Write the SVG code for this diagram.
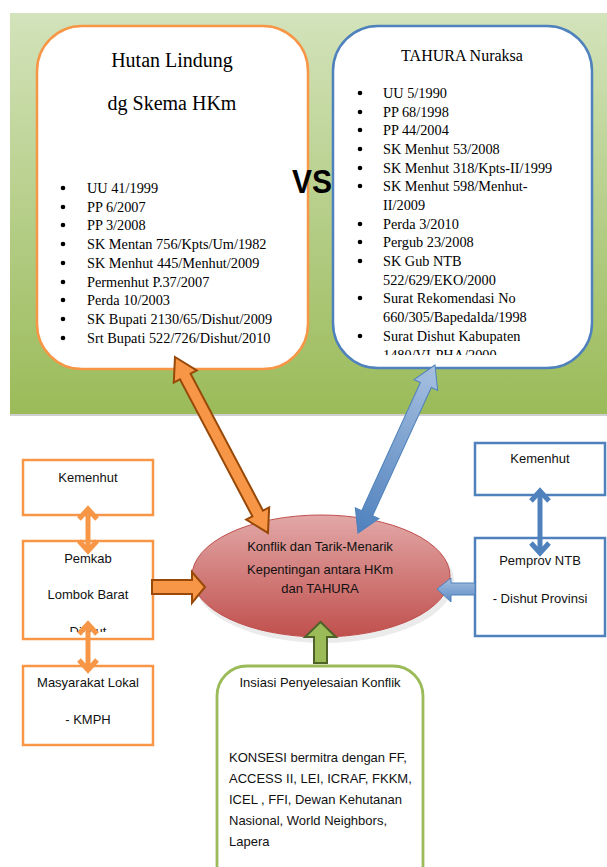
<svg xmlns="http://www.w3.org/2000/svg" width="607" height="867" viewBox="0 0 607 867">
<defs>
<linearGradient id="bg" x1="0" y1="0" x2="0" y2="1"><stop offset="0" stop-color="#d3e3bb"/><stop offset="0.6" stop-color="#b0ca7f"/><stop offset="1" stop-color="#9bbb59"/></linearGradient>
<linearGradient id="ell" x1="0" y1="0" x2="0" y2="1"><stop offset="0" stop-color="#e2a8a7"/><stop offset="1" stop-color="#c0504d"/></linearGradient>
<linearGradient id="blueg" x1="0" y1="0" x2="1" y2="0"><stop offset="0" stop-color="#a7c0e0"/><stop offset="1" stop-color="#4f81bd"/></linearGradient>
<linearGradient id="blueh" x1="0" y1="0" x2="0" y2="1"><stop offset="0" stop-color="#a7c0e0"/><stop offset="1" stop-color="#5b8bc4"/></linearGradient>
<clipPath id="clipB"><rect x="333" y="26" width="260" height="329"/></clipPath>
<clipPath id="clipP"><rect x="23" y="541" width="130" height="91"/></clipPath>
<style>
.serif{font-family:"Liberation Serif","Times New Roman",serif;fill:#000}
.sans{font-family:"Liberation Sans",Arial,sans-serif;font-size:13px;fill:#111}
.li{font-size:14.3px}
.ob{fill:#fff;stroke:#f79646;stroke-width:2.5}
.bb{fill:#fff;stroke:#4f81bd;stroke-width:2.5}
.oarr{fill:#f79646;stroke:#984807;stroke-width:2;stroke-linejoin:miter}
.dbl{fill:none;stroke-width:5;stroke-linejoin:miter}
</style>
</defs>
<rect x="0" y="0" width="607" height="867" fill="#fff"/>
<g id="background">
<rect x="10" y="13" width="597" height="401" fill="url(#bg)"/>
<rect x="10" y="414" width="597" height="2" fill="#cfcfcf"/>
</g>
<g id="hutan-lindung">
<rect x="37" y="26" width="271" height="343" rx="45" ry="45" class="ob"/>
<text class="serif" x="172" y="67" font-size="20" text-anchor="middle">Hutan Lindung</text>
<text class="serif" x="172" y="110" font-size="20" text-anchor="middle">dg Skema HKm</text>
<g fill="#000"><circle cx="63" cy="188" r="2.3"/><circle cx="63" cy="207" r="2.3"/><circle cx="63" cy="225" r="2.3"/><circle cx="63" cy="244" r="2.3"/><circle cx="63" cy="263" r="2.3"/><circle cx="63" cy="282" r="2.3"/><circle cx="63" cy="300" r="2.3"/><circle cx="63" cy="319" r="2.3"/><circle cx="63" cy="338" r="2.3"/></g>
<text class="serif li" x="87" y="193">UU 41/1999</text>
<text class="serif li" x="87" y="212">PP 6/2007</text>
<text class="serif li" x="87" y="230">PP 3/2008</text>
<text class="serif li" x="87" y="249">SK Mentan 756/Kpts/Um/1982</text>
<text class="serif li" x="87" y="268">SK Menhut 445/Menhut/2009</text>
<text class="serif li" x="87" y="287">Permenhut P.37/2007</text>
<text class="serif li" x="87" y="305">Perda 10/2003</text>
<text class="serif li" x="87" y="324">SK Bupati 2130/65/Dishut/2009</text>
<text class="serif li" x="87" y="343">Srt Bupati 522/726/Dishut/2010</text>
</g>
<g id="vs">
<text x="292" y="193" font-family="'Liberation Sans',Arial,sans-serif" font-weight="bold" font-size="34" textLength="40" lengthAdjust="spacingAndGlyphs" fill="#000">VS</text>
</g>
<g id="tahura">
<rect x="333" y="26" width="259" height="342" rx="45" ry="45" class="bb"/>
<text class="serif" x="462" y="61" font-size="16" text-anchor="middle">TAHURA Nuraksa</text>
<g clip-path="url(#clipB)">
<g fill="#000"><circle cx="360" cy="93" r="2.3"/><circle cx="360" cy="112" r="2.3"/><circle cx="360" cy="130" r="2.3"/><circle cx="360" cy="149" r="2.3"/><circle cx="360" cy="168" r="2.3"/><circle cx="360" cy="186" r="2.3"/><circle cx="360" cy="224" r="2.3"/><circle cx="360" cy="242" r="2.3"/><circle cx="360" cy="261" r="2.3"/><circle cx="360" cy="298" r="2.3"/><circle cx="360" cy="336" r="2.3"/></g>
<text class="serif li" x="383" y="98">UU 5/1990</text>
<text class="serif li" x="383" y="117">PP 68/1998</text>
<text class="serif li" x="383" y="135">PP 44/2004</text>
<text class="serif li" x="383" y="154">SK Menhut 53/2008</text>
<text class="serif li" x="383" y="173">SK Menhut 318/Kpts-II/1999</text>
<text class="serif li" x="383" y="191">SK Menhut 598/Menhut-</text>
<text class="serif li" x="383" y="210">II/2009</text>
<text class="serif li" x="383" y="229">Perda 3/2010</text>
<text class="serif li" x="383" y="247">Pergub 23/2008</text>
<text class="serif li" x="383" y="266">SK Gub NTB</text>
<text class="serif li" x="383" y="285">522/629/EKO/2000</text>
<text class="serif li" x="383" y="303">Surat Rekomendasi No</text>
<text class="serif li" x="383" y="322">660/305/Bapedalda/1998</text>
<text class="serif li" x="383" y="341">Surat Dishut Kabupaten</text>
<text class="serif li" x="383" y="360">1480/VI-PHA/2000</text>
</g>
</g>
<g id="kemenhut-left">
<rect x="23" y="460" width="130" height="55" class="ob" stroke-width="2.2"/>
<text class="sans" x="88" y="482" text-anchor="middle">Kemenhut</text>
</g>
<g id="pemkab">
<rect x="23" y="541" width="130" height="98" class="ob" stroke-width="2.2"/>
<g clip-path="url(#clipP)">
<text class="sans" x="88" y="563" text-anchor="middle">Pemkab</text>
<text class="sans" x="88" y="599" text-anchor="middle">Lombok Barat</text>
<text class="sans" x="88" y="636" text-anchor="middle">Dishut</text>
</g>
</g>
<g id="masyarakat">
<rect x="23" y="666" width="130" height="79" class="ob" stroke-width="2.2"/>
<text class="sans" x="88" y="687" text-anchor="middle">Masyarakat Lokal</text>
<text class="sans" x="88" y="724" text-anchor="middle">- KMPH</text>
</g>
<g id="kemenhut-right">
<rect x="475" y="443" width="130" height="52" class="bb" stroke-width="2.2"/>
<text class="sans" x="540" y="463" text-anchor="middle">Kemenhut</text>
</g>
<g id="pemprov">
<rect x="475" y="538" width="130" height="98" class="bb" stroke-width="2.2"/>
<text class="sans" x="540" y="565" text-anchor="middle">Pemprov NTB</text>
<text class="sans" x="540" y="603" text-anchor="middle">- Dishut Provinsi</text>
</g>
<g id="konflik">
<ellipse cx="322" cy="578" rx="130" ry="62" fill="#000" opacity="0.08" transform="translate(2,3)"/>
<ellipse cx="321" cy="576" rx="129" ry="61" fill="url(#ell)" stroke="#c0504d" stroke-width="1"/>
<text class="sans" x="320" y="551" text-anchor="middle">Konflik dan Tarik-Menarik</text>
<text class="sans" x="320" y="574" text-anchor="middle">Kepentingan antara HKm</text>
<text class="sans" x="320" y="593" text-anchor="middle">dan TAHURA</text>
</g>
<g id="insiasi">
<rect x="217" y="666" width="206" height="240" rx="30" ry="30" fill="#fff" stroke="#9bbb59" stroke-width="2.8"/>
<text class="sans" x="320" y="687" text-anchor="middle">Insiasi Penyelesaian Konflik</text>
<text class="sans" x="229" y="762">KONSESI bermitra dengan FF,</text>
<text class="sans" x="229" y="783">ACCESS II, LEI, ICRAF, FKKM,</text>
<text class="sans" x="229" y="804">ICEL , FFI, Dewan Kehutanan</text>
<text class="sans" x="229" y="825">Nasional, World Neighbors,</text>
<text class="sans" x="229" y="846">Lapera</text>
</g>
<g id="connectors">
<path class="oarr" transform="translate(175,357) rotate(62.15)" d="M0,0 L22,-13 L22,-6 L177,-6 L177,-13 L199,0 L177,13 L177,6 L22,6 L22,13 Z"/>
<path transform="translate(435,365) rotate(114.6)" fill="url(#blueg)" stroke="#4f81bd" stroke-width="1" d="M0,0 L22,-13 L22,-6 L163,-6 L163,-13 L185,0 L163,13 L163,6 L22,6 L22,13 Z"/>
<path class="oarr" d="M152,580 L192,580 L192,572 L205,587 L192,603 L192,594 L152,594 Z"/>
<path fill="url(#blueh)" stroke="#4f81bd" stroke-width="1" d="M475,583 L451,583 L451,578 L437,589 L451,602 L451,595 L475,595 Z"/>
<path fill="#9bbb59" stroke="#4f6228" stroke-width="2" d="M314,663 L314,637 L305,637 L320.5,622 L336,637 L327,637 L327,663 Z"/>
<g stroke="#f79646" class="dbl">
<path d="M88,510 L88,549"/><path d="M79,519 L88,509 L97,519"/><path d="M79,541 L88,551 L97,541"/>
<path d="M88,625 L88,668"/><path d="M79,634 L88,624 L97,634"/><path d="M79,660 L88,670 L97,660"/>
</g>
<g stroke="#4f81bd" class="dbl">
<path d="M540,492 L540,551"/><path d="M531,501 L540,491 L549,501"/><path d="M531,543 L540,553 L549,543"/>
</g>
</g>
</svg>
